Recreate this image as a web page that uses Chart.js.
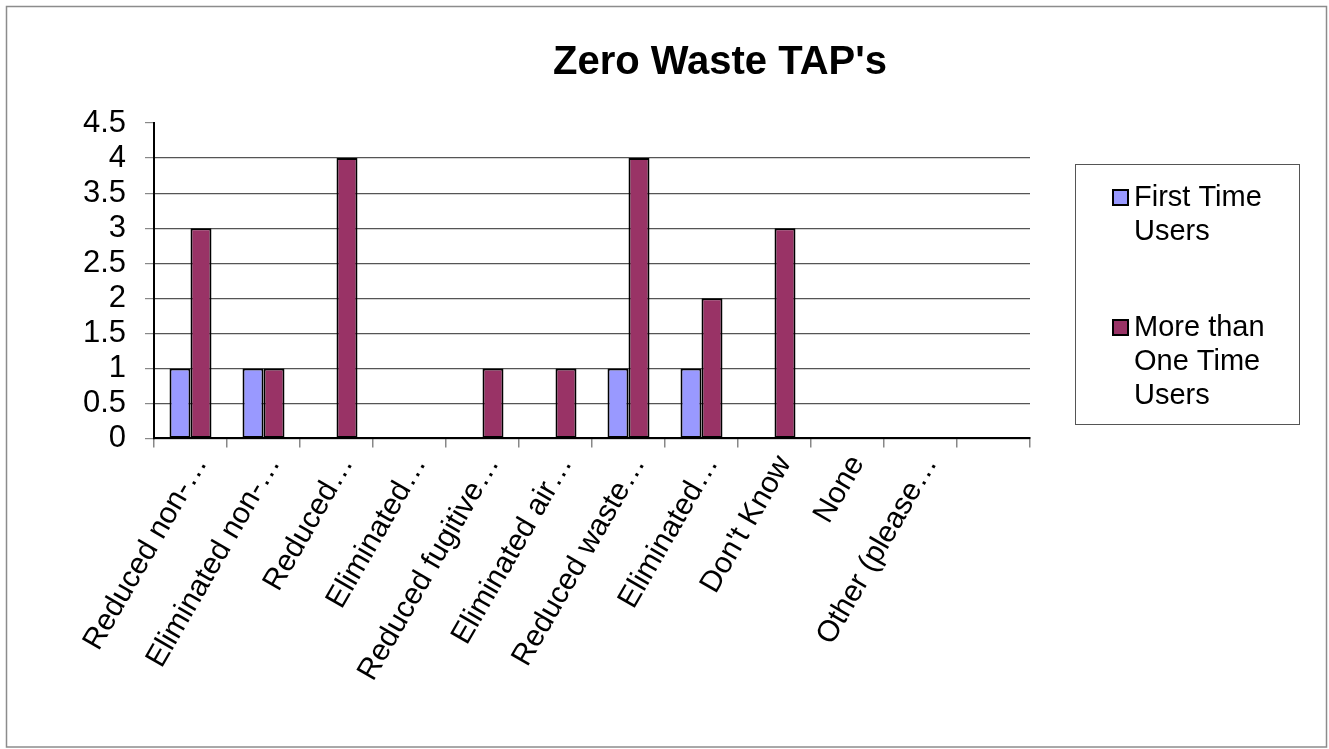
<!DOCTYPE html>
<html>
<head>
<meta charset="utf-8">
<script src="https://cdn.jsdelivr.net/npm/chart.js@4.4.1/dist/chart.umd.min.js"></script>
<style>
  html, body { margin: 0; padding: 0; background: #fff; }
  #wrap { width: 1329px; height: 749px; position: relative; }
</style>
</head>
<body>
<div id="wrap"><canvas id="c" width="1329" height="749"></canvas></div>
<script>
const titleText = "Zero Waste TAP's";
const categories = ["Reduced non-…", "Eliminated non-…", "Reduced…", "Eliminated…", "Reduced fugitive…", "Eliminated air…", "Reduced waste…", "Eliminated…", "Don't Know", "None", "Other (please…", ""];
const seriesNames = ["First Time Users", "More than One Time Users"];
const firstTimeUsers = [1, 1, 0, 0, 0, 0, 1, 1, 0, 0, 0, null];
const moreThanOneTimeUsers = [3, 1, 4, 0, 1, 1, 4, 2, 3, 0, 0, null];
const yMin = 0, yMax = 4.5, yStep = 0.5;

const FONT = "'Liberation Sans', Arial, sans-serif";

function wrapWords(ctx, text, maxW) {
  const words = text.split(' ');
  const lines = [];
  let cur = '';
  for (const w of words) {
    const t = cur ? cur + ' ' + w : w;
    if (ctx.measureText(t).width > maxW && cur) { lines.push(cur); cur = w; }
    else cur = t;
  }
  if (cur) lines.push(cur);
  return lines;
}

const decor = {
  id: 'decor',
  beforeDraw(chart) {
    const ctx = chart.ctx;
    ctx.save();
    ctx.fillStyle = '#fff';
    ctx.fillRect(0, 0, chart.width, chart.height);
    ctx.strokeStyle = '#8c8c8c';
    ctx.lineWidth = 1.5;
    ctx.strokeRect(6.5, 6.5, 1320, 740.5);
    ctx.restore();
  },
  afterDraw(chart) {
    const ctx = chart.ctx;
    ctx.save();
    // title
    ctx.fillStyle = '#000';
    ctx.font = "bold 40px " + FONT;
    ctx.textAlign = 'center';
    ctx.textBaseline = 'middle';
    ctx.fillText(titleText, 720, 63);
    // legend box
    ctx.strokeStyle = '#555';
    ctx.lineWidth = 1;
    ctx.strokeRect(1075.5, 164.5, 224, 260);
    ctx.font = "29px " + FONT;
    ctx.textAlign = 'left';
    ctx.textBaseline = 'middle';
    const starts = [198, 328];
    chart.data.datasets.forEach((ds, i) => {
      const lines = wrapWords(ctx, ds.label, 160);
      const y0 = starts[i];
      ctx.fillStyle = ds.backgroundColor;
      ctx.fillRect(1113, y0 - 8, 15, 15);
      ctx.strokeStyle = '#000';
      ctx.lineWidth = 2;
      ctx.strokeRect(1113, y0 - 8, 15, 15);
      ctx.fillStyle = '#000';
      lines.forEach((ln, j) => ctx.fillText(ln, 1134, y0 + j * 34));
    });
    ctx.restore();
  }
};

new Chart(document.getElementById('c'), {
  type: 'bar',
  data: {
    labels: categories,
    datasets: [
      { label: seriesNames[0], data: firstTimeUsers, backgroundColor: '#9999FF', borderColor: '#000', borderWidth: 2, borderSkipped: false },
      { label: seriesNames[1], data: moreThanOneTimeUsers, backgroundColor: '#993366', borderColor: '#000', borderWidth: 2, borderSkipped: false }
    ]
  },
  options: {
    responsive: false,
    animation: false,
    devicePixelRatio: 1,
    layout: { padding: { top: 123, right: 299, bottom: 60, left: 0 } },
    datasets: { bar: { categoryPercentage: 0.575, barPercentage: 1.0 } },
    plugins: {
      legend: { display: false },
      title: { display: false },
      tooltip: { enabled: false }
    },
    scales: {
      x: {
        grid: { offset: true, drawOnChartArea: false, drawTicks: true, tickLength: 9, color: '#888', lineWidth: 1.5 },
        border: { display: true, color: '#000', width: 2 },
        ticks: { color: '#000', font: { family: FONT, size: 30 }, maxRotation: 60, minRotation: 60, autoSkip: false, padding: 2, labelOffset: 10 }
      },
      y: {
        min: yMin, max: yMax,
        afterFit(scale) { scale.width = 154; },
        grid: {
          color: (c) => (c.tick && c.tick.value === yMax) ? 'rgba(0,0,0,0)' : '#555',
          tickColor: '#888',
          lineWidth: 1.2,
          tickLength: 9,
          drawTicks: true
        },
        border: { display: true, color: '#000', width: 2 },
        ticks: { stepSize: yStep, autoSkip: false, color: '#000', font: { family: FONT, size: 31, lineHeight: 1 }, padding: 19, callback: (v) => String(v) }
      }
    }
  },
  plugins: [decor]
});
</script>
</body>
</html>
